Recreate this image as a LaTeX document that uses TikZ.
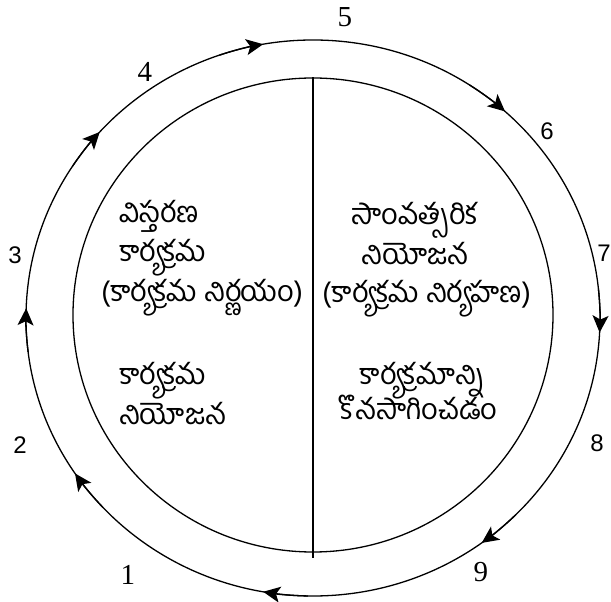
\documentclass[tikz,border=0pt]{standalone}
\usepackage{fontspec}
\setmainfont{Liberation Serif}
\newfontfamily\arialfont{Liberation Sans}
\newfontfamily\telugu[Script=Telugu]{Hind Guntur}
\usetikzlibrary{arrows.meta, shapes.geometric}

\begin{document}
\begin{tikzpicture}[x=1pt, y=1pt,
  ring/.style={ellipse, draw, line width=1.3pt, inner sep=0pt},
  flow/.style={draw, line width=1.3pt, -{Stealth[length=17pt, width=16pt, inset=4pt]}},
  tel/.style={font=\telugu\fontsize{29}{32}\selectfont, inner sep=0pt},
  numser/.style={font=\fontsize{29}{31}\selectfont, inner sep=0pt},
  numsan/.style={font=\arialfont\fontsize{24}{26}\selectfont, inner sep=0pt}
]
  \useasboundingbox (-313,-284) rectangle (298,318);
  \node[ring, minimum width=574pt, minimum height=556pt] (outer) at (0,0) {};
  \node[ring, minimum width=480pt, minimum height=474pt] (inner) at (0,3) {};
  \coordinate (split) at ([yshift=-5pt]inner.south);
  \draw[line width=1.3pt] (inner.north) -- (split);
  % arrows on the outer ring, clockwise
  \foreach \a in {214,178,138,100,48,357,306,260}
    \draw[flow] ({287*cos(\a+9)},{278*sin(\a+9)})
      arc[start angle=\a+9, end angle=\a, x radius=287pt, y radius=278pt];
  % left half
  \node[tel, anchor=base west] (wide)  at (-194,95)  {విస్తరణ};
  \node[tel, anchor=base west] (prog)  at (-194,56)  {కార్యక్రమ};
  \node[tel, anchor=base west] (dec)   at (-212,16)  {(కార్యక్రమ నిర్ణయం)};
  \node[tel, anchor=base west] (progb) at (-194,-67) {కార్యక్రమ};
  \node[tel, anchor=base west] (plan)  at (-194,-107) {నియోజన};
  % right half
  \node[tel, anchor=base] (year)  at (102,93)  {సాంవత్సరిక};
  \node[tel, anchor=base] (plana) at (102,53)  {నియోజన};
  \node[tel, anchor=base] (run)   at (114,15)  {(కార్యక్రమ నిర్యహణ)};
  \node[tel, anchor=base] (progc) at (109,-67) {కార్యక్రమాన్ని};
  \node[tel, anchor=base] (cont)  at (105,-102) {కొనసాగించడం};
  % step numbers
  \node[numser] (n1) at (-185,-257) {1};
  \node[numsan] (n2) at (-293,-127) {2};
  \node[numsan] (n3) at (-298,63)   {3};
  \node[numser] (n4) at (-168,246)  {4};
  \node[numser] (n5) at (32,301)    {5};
  \node[numsan] (n6) at (234,187)   {6};
  \node[numsan] (n7) at (291,65)    {7};
  \node[numsan] (n8) at (284,-125)  {8};
  \node[numser] (n9) at (168,-254)  {9};
\end{tikzpicture}
\end{document}
